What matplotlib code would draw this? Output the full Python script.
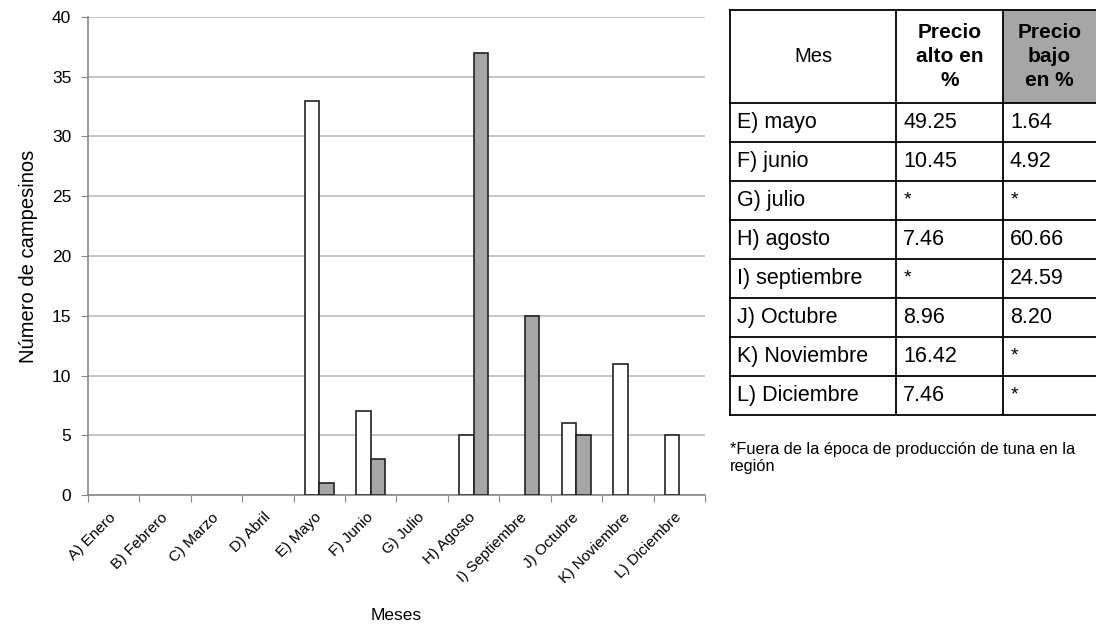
import numpy as np
import matplotlib.pyplot as plt
from matplotlib.transforms import ScaledTranslation

plt.rcParams["font.family"] = ["Liberation Sans", "DejaVu Sans"]

meses = ["A) Enero", "B) Febrero", "C) Marzo", "D) Abril", "E) Mayo", "F) Junio",
         "G) Julio", "H) Agosto", "I) Septiembre", "J) Octubre", "K) Noviembre",
         "L) Diciembre"]
precio_alto = [0, 0, 0, 0, 33, 7, 0, 5, 0, 6, 11, 5]
precio_bajo = [0, 0, 0, 0, 1, 3, 0, 37, 15, 5, 0, 0]

tabla_meses = ["E) mayo", "F) junio", "G) julio", "H) agosto", "I) septiembre",
               "J) Octubre", "K) Noviembre", "L) Diciembre"]
tabla_alto = ["49.25", "10.45", "*", "7.46", "*", "8.96", "16.42", "7.46"]
tabla_bajo = ["1.64", "4.92", "*", "60.66", "24.59", "8.20", "*", "*"]

W, H = 1096, 626
fig = plt.figure(figsize=(W / 100, H / 100), dpi=100)

# bar chart
ax = fig.add_axes([88 / W, 1 - 495 / H, (705 - 88) / W, (495 - 17) / H])
x = np.arange(len(meses))
alto = np.array(precio_alto)
bajo = np.array(precio_bajo)
bw = 0.28
# months without answers get no bar at all
ax.bar(x[alto > 0] - bw / 2, alto[alto > 0], bw, color="white",
       edgecolor="#222222", linewidth=1.2, zorder=3)
ax.bar(x[bajo > 0] + bw / 2, bajo[bajo > 0], bw, color="#a6a6a6",
       edgecolor="#222222", linewidth=1.2, zorder=3)

ax.set_xlim(-0.5, len(meses) - 0.5)
ax.set_ylim(0, 40)
ax.set_yticks(range(0, 41, 5))
ax.yaxis.grid(True, color="#bbbbbb", linewidth=1.2, zorder=0)
ax.set_axisbelow(True)

ax.set_xticks(np.arange(len(meses) + 1) - 0.5)
ax.set_xticklabels([])
ax.set_xticks(x, minor=True)
ax.set_xticklabels(meses, minor=True, rotation=45, ha="right", rotation_mode="anchor", fontsize=11)
ax.tick_params(axis="x", which="minor", length=0, pad=11)
ax.tick_params(axis="x", which="major", length=5, color="#888888")
ax.tick_params(axis="y", length=5, color="#888888", labelsize=12.5, pad=7)
shift = ScaledTranslation(-5 / 100, 0, fig.dpi_scale_trans)
for lab in ax.get_xticklabels(minor=True):
    lab.set_transform(lab.get_transform() + shift)

for s in ["top", "right"]:
    ax.spines[s].set_visible(False)
for s in ["left", "bottom"]:
    ax.spines[s].set_color("#888888")
    ax.spines[s].set_linewidth(1.2)

ax.set_ylabel("Número de campesinos", fontsize=14.5, labelpad=10)
ax.set_xlabel("Meses", fontsize=12.5, labelpad=16)

# table drawn in pixel coordinates
tx = fig.add_axes([0, 0, 1, 1])
tx.set_xlim(0, W)
tx.set_ylim(H, 0)
tx.axis("off")

cols = [730, 896, 1003, 1110]
rows = [10, 103] + [103 + 39 * (i + 1) for i in range(len(tabla_meses))]

tx.add_patch(plt.Rectangle((cols[2], rows[0]), cols[3] - cols[2], rows[1] - rows[0],
                           facecolor="#a6a6a6", edgecolor="none"))
for yy in rows:
    tx.plot([cols[0], cols[3]], [yy, yy], color="black", linewidth=1.3)
for xx in cols[:3]:
    tx.plot([xx, xx], [rows[0], rows[-1]], color="black", linewidth=1.3)

head_y = (rows[0] + rows[1]) / 2
tx.text((cols[0] + cols[1]) / 2, head_y, "Mes", ha="center", va="center", fontsize=14.5)
tx.text((cols[1] + cols[2]) / 2, head_y, "Precio\nalto en\n%", ha="center", va="center",
        fontsize=15, fontweight="bold", linespacing=1.3)
tx.text((cols[2] + 1096) / 2, head_y, "Precio\nbajo\nen %", ha="center", va="center",
        fontsize=15, fontweight="bold", linespacing=1.3)

for i, (m, a, b) in enumerate(zip(tabla_meses, tabla_alto, tabla_bajo)):
    yc = (rows[i + 1] + rows[i + 2]) / 2
    for xx, t in zip(cols[:3], [m, a, b]):
        if t == "*":
            tx.text(xx + 8, yc - 1, t, ha="left", va="center", fontsize=14)
        else:
            tx.text(xx + 7, yc, t, ha="left", va="center", fontsize=15.5)

tx.text(cols[0], 442, "*Fuera de la época de producción de tuna en la\nregión",
        ha="left", va="top", fontsize=11.8, linespacing=1.15)

fig.savefig("out.png", dpi=100)
